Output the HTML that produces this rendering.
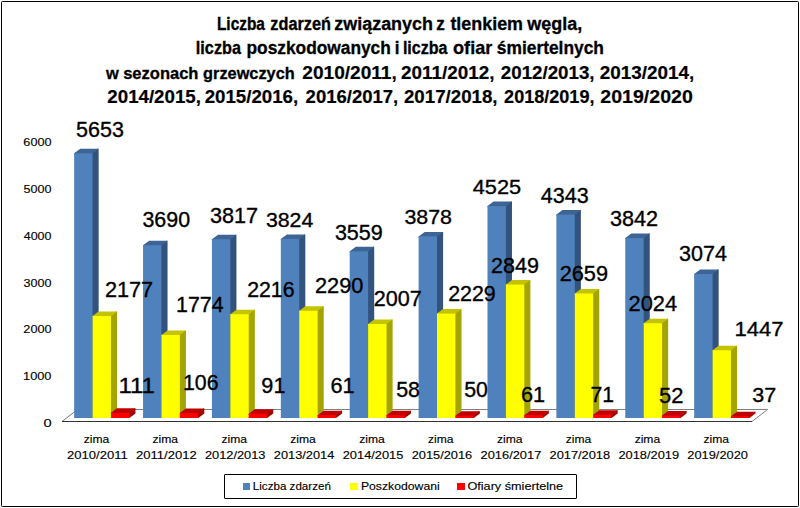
<!DOCTYPE html>
<html><head><meta charset="utf-8"><style>
html,body{margin:0;padding:0;background:#fff;width:800px;height:508px;overflow:hidden}
svg text{font-family:"Liberation Sans",sans-serif}
</style></head><body>
<svg width="800" height="508" viewBox="0 0 800 508" style="position:absolute;left:0;top:0">
<rect x="0" y="0" width="800" height="508" fill="#fff"/>
<rect x="1.5" y="1.5" width="797" height="505" fill="none" stroke="#000" stroke-width="1" rx="1"/>
<text transform="translate(216.96,30.00) scale(0.1541,0.1891)" font-size="100" font-weight="bold" fill="#000" stroke="#000" stroke-width="1.95">Liczba</text>
<text transform="translate(270.35,30.00) scale(0.1629,0.1891)" font-size="100" font-weight="bold" fill="#000" stroke="#000" stroke-width="1.84">zdarzeń</text>
<text transform="translate(334.28,30.00) scale(0.1795,0.1891)" font-size="100" font-weight="bold" fill="#000" stroke="#000" stroke-width="1.67">związanych</text>
<text transform="translate(436.32,30.00) scale(0.1711,0.1891)" font-size="100" font-weight="bold" fill="#000" stroke="#000" stroke-width="1.75">z</text>
<text transform="translate(450.38,30.00) scale(0.1793,0.1891)" font-size="100" font-weight="bold" fill="#000" stroke="#000" stroke-width="1.67">tlenkiem</text>
<text transform="translate(527.24,30.00) scale(0.1798,0.1891)" font-size="100" font-weight="bold" fill="#000" stroke="#000" stroke-width="1.67">węgla,</text>
<text transform="translate(195.87,54.00) scale(0.1621,0.1834)" font-size="100" font-weight="bold" fill="#000" stroke="#000" stroke-width="1.85">liczba</text>
<text transform="translate(246.47,54.00) scale(0.1734,0.1834)" font-size="100" font-weight="bold" fill="#000" stroke="#000" stroke-width="1.73">poszkodowanych</text>
<text transform="translate(394.81,54.00) scale(0.1702,0.1834)" font-size="100" font-weight="bold" fill="#000" stroke="#000" stroke-width="1.76">i</text>
<text transform="translate(402.88,54.00) scale(0.1606,0.1834)" font-size="100" font-weight="bold" fill="#000" stroke="#000" stroke-width="1.87">liczba</text>
<text transform="translate(453.08,54.00) scale(0.1808,0.1834)" font-size="100" font-weight="bold" fill="#000" stroke="#000" stroke-width="1.66">ofiar</text>
<text transform="translate(496.79,54.00) scale(0.1738,0.1834)" font-size="100" font-weight="bold" fill="#000" stroke="#000" stroke-width="1.73">śmiertelnych</text>
<text transform="translate(106.04,78.60) scale(0.1643,0.1725)" font-size="100" font-weight="bold" fill="#000" stroke="#000" stroke-width="1.83">w</text>
<text transform="translate(123.17,78.60) scale(0.1653,0.1725)" font-size="100" font-weight="bold" fill="#000" stroke="#000" stroke-width="1.82">sezonach</text>
<text transform="translate(203.10,78.60) scale(0.1633,0.1725)" font-size="100" font-weight="bold" fill="#000" stroke="#000" stroke-width="1.84">grzewczych</text>
<text transform="translate(302.33,78.82) scale(0.1908,0.1781)" font-size="100" font-weight="bold" fill="#000" stroke="#000" stroke-width="1.05">2010/2011,</text>
<text transform="translate(401.09,78.82) scale(0.1889,0.1781)" font-size="100" font-weight="bold" fill="#000" stroke="#000" stroke-width="1.06">2011/2012,</text>
<text transform="translate(500.84,78.82) scale(0.1873,0.1781)" font-size="100" font-weight="bold" fill="#000" stroke="#000" stroke-width="1.07">2012/2013,</text>
<text transform="translate(599.84,78.82) scale(0.1887,0.1781)" font-size="100" font-weight="bold" fill="#000" stroke="#000" stroke-width="1.06">2013/2014,</text>
<text transform="translate(107.35,102.82) scale(0.1870,0.1781)" font-size="100" font-weight="bold" fill="#000" stroke="#000" stroke-width="1.07">2014/2015,</text>
<text transform="translate(204.65,102.82) scale(0.1870,0.1781)" font-size="100" font-weight="bold" fill="#000" stroke="#000" stroke-width="1.07">2015/2016,</text>
<text transform="translate(305.60,102.82) scale(0.1851,0.1781)" font-size="100" font-weight="bold" fill="#000" stroke="#000" stroke-width="1.08">2016/2017,</text>
<text transform="translate(403.95,102.82) scale(0.1871,0.1781)" font-size="100" font-weight="bold" fill="#000" stroke="#000" stroke-width="1.07">2017/2018,</text>
<text transform="translate(504.12,102.82) scale(0.1806,0.1781)" font-size="100" font-weight="bold" fill="#000" stroke="#000" stroke-width="1.11">2018/2019,</text>
<text transform="translate(600.32,102.82) scale(0.1957,0.1781)" font-size="100" font-weight="bold" fill="#000" stroke="#000" stroke-width="1.02">2019/2020</text>
<text transform="translate(23.37,145.89) scale(0.1265,0.1131)" font-size="100" font-weight="normal" fill="#000" stroke="#000" stroke-width="1.19">6000</text>
<text transform="translate(23.50,192.89) scale(0.1259,0.1131)" font-size="100" font-weight="normal" fill="#000" stroke="#000" stroke-width="1.19">5000</text>
<text transform="translate(23.72,239.89) scale(0.1249,0.1131)" font-size="100" font-weight="normal" fill="#000" stroke="#000" stroke-width="1.20">4000</text>
<text transform="translate(23.53,286.89) scale(0.1257,0.1131)" font-size="100" font-weight="normal" fill="#000" stroke="#000" stroke-width="1.19">3000</text>
<text transform="translate(23.37,333.19) scale(0.1265,0.1131)" font-size="100" font-weight="normal" fill="#000" stroke="#000" stroke-width="1.19">2000</text>
<text transform="translate(23.04,380.09) scale(0.1280,0.1131)" font-size="100" font-weight="normal" fill="#000" stroke="#000" stroke-width="1.17">1000</text>
<text transform="translate(43.41,426.89) scale(0.1466,0.1131)" font-size="100" font-weight="normal" fill="#000" stroke="#000" stroke-width="1.02">0</text>
<polygon points="62,421.5 752,421.5 767.5,409.5 77.5,409.5" fill="#fff" stroke="none"/>
<line x1="77.5" y1="409.5" x2="767.5" y2="409.5" stroke="#808080" stroke-width="1"/>
<line x1="767.5" y1="409.5" x2="752" y2="421.5" stroke="#808080" stroke-width="1"/>
<line x1="62" y1="421.5" x2="77.5" y2="409.5" stroke="#7a7a7a" stroke-width="1"/>
<line x1="62" y1="421.5" x2="752" y2="421.5" stroke="#333" stroke-width="1.2"/>
<polygon points="91.55,153.27 97.65,148.77 98.65,148.77 98.65,413.50 92.55,418.00 91.55,418.00" fill="#32537D"/>
<polygon points="74.15,154.27 74.15,153.27 80.25,148.77 98.65,148.77 92.55,153.27 92.55,154.27" fill="#3E6496"/>
<rect x="74.15" y="153.27" width="18.40" height="264.73" fill="#4F81BD"/>
<polygon points="109.95,316.05 116.05,311.55 117.05,311.55 117.05,413.50 110.95,418.00 109.95,418.00" fill="#A4A400"/>
<polygon points="92.55,317.05 92.55,316.05 98.65,311.55 117.05,311.55 110.95,316.05 110.95,317.05" fill="#C3C300"/>
<rect x="92.55" y="316.05" width="18.40" height="101.95" fill="#FFFF00"/>
<polygon points="128.35,412.80 134.45,408.30 135.45,408.30 135.45,413.50 129.35,418.00 128.35,418.00" fill="#A00000"/>
<polygon points="110.95,413.80 110.95,412.80 117.05,408.30 135.45,408.30 129.35,412.80 129.35,413.80" fill="#C00000"/>
<rect x="110.95" y="412.80" width="18.40" height="5.20" fill="#FF0000"/>
<polygon points="160.44,245.20 166.54,240.70 167.54,240.70 167.54,413.50 161.44,418.00 160.44,418.00" fill="#32537D"/>
<polygon points="143.04,246.20 143.04,245.20 149.14,240.70 167.54,240.70 161.44,245.20 161.44,246.20" fill="#3E6496"/>
<rect x="143.04" y="245.20" width="18.40" height="172.80" fill="#4F81BD"/>
<polygon points="178.84,334.92 184.94,330.42 185.94,330.42 185.94,413.50 179.84,418.00 178.84,418.00" fill="#A4A400"/>
<polygon points="161.44,335.92 161.44,334.92 167.54,330.42 185.94,330.42 179.84,334.92 179.84,335.92" fill="#C3C300"/>
<rect x="161.44" y="334.92" width="18.40" height="83.08" fill="#FFFF00"/>
<polygon points="197.24,413.04 203.34,408.54 204.34,408.54 204.34,413.50 198.24,418.00 197.24,418.00" fill="#A00000"/>
<polygon points="179.84,414.04 179.84,413.04 185.94,408.54 204.34,408.54 198.24,413.04 198.24,414.04" fill="#C00000"/>
<rect x="179.84" y="413.04" width="18.40" height="4.96" fill="#FF0000"/>
<polygon points="229.33,239.25 235.43,234.75 236.43,234.75 236.43,413.50 230.33,418.00 229.33,418.00" fill="#32537D"/>
<polygon points="211.93,240.25 211.93,239.25 218.03,234.75 236.43,234.75 230.33,239.25 230.33,240.25" fill="#3E6496"/>
<rect x="211.93" y="239.25" width="18.40" height="178.75" fill="#4F81BD"/>
<polygon points="247.73,314.22 253.83,309.72 254.83,309.72 254.83,413.50 248.73,418.00 247.73,418.00" fill="#A4A400"/>
<polygon points="230.33,315.22 230.33,314.22 236.43,309.72 254.83,309.72 248.73,314.22 248.73,315.22" fill="#C3C300"/>
<rect x="230.33" y="314.22" width="18.40" height="103.78" fill="#FFFF00"/>
<polygon points="266.13,413.74 272.23,409.24 273.23,409.24 273.23,413.50 267.13,418.00 266.13,418.00" fill="#A00000"/>
<polygon points="248.73,414.74 248.73,413.74 254.83,409.24 273.23,409.24 267.13,413.74 267.13,414.74" fill="#C00000"/>
<rect x="248.73" y="413.74" width="18.40" height="4.26" fill="#FF0000"/>
<polygon points="298.22,238.92 304.32,234.42 305.32,234.42 305.32,413.50 299.22,418.00 298.22,418.00" fill="#32537D"/>
<polygon points="280.82,239.92 280.82,238.92 286.92,234.42 305.32,234.42 299.22,238.92 299.22,239.92" fill="#3E6496"/>
<rect x="280.82" y="238.92" width="18.40" height="179.08" fill="#4F81BD"/>
<polygon points="316.62,310.76 322.72,306.26 323.72,306.26 323.72,413.50 317.62,418.00 316.62,418.00" fill="#A4A400"/>
<polygon points="299.22,311.76 299.22,310.76 305.32,306.26 323.72,306.26 317.62,310.76 317.62,311.76" fill="#C3C300"/>
<rect x="299.22" y="310.76" width="18.40" height="107.24" fill="#FFFF00"/>
<polygon points="335.02,415.14 341.12,410.64 342.12,410.64 342.12,413.50 336.02,418.00 335.02,418.00" fill="#A00000"/>
<polygon points="317.62,416.14 317.62,415.14 323.72,410.64 342.12,410.64 336.02,415.14 336.02,416.14" fill="#C00000"/>
<rect x="317.62" y="415.14" width="18.40" height="2.86" fill="#FF0000"/>
<polygon points="367.11,251.33 373.21,246.83 374.21,246.83 374.21,413.50 368.11,418.00 367.11,418.00" fill="#32537D"/>
<polygon points="349.71,252.33 349.71,251.33 355.81,246.83 374.21,246.83 368.11,251.33 368.11,252.33" fill="#3E6496"/>
<rect x="349.71" y="251.33" width="18.40" height="166.67" fill="#4F81BD"/>
<polygon points="385.51,324.01 391.61,319.51 392.61,319.51 392.61,413.50 386.51,418.00 385.51,418.00" fill="#A4A400"/>
<polygon points="368.11,325.01 368.11,324.01 374.21,319.51 392.61,319.51 386.51,324.01 386.51,325.01" fill="#C3C300"/>
<rect x="368.11" y="324.01" width="18.40" height="93.99" fill="#FFFF00"/>
<polygon points="403.91,415.28 410.01,410.78 411.01,410.78 411.01,413.50 404.91,418.00 403.91,418.00" fill="#A00000"/>
<polygon points="386.51,416.28 386.51,415.28 392.61,410.78 411.01,410.78 404.91,415.28 404.91,416.28" fill="#C00000"/>
<rect x="386.51" y="415.28" width="18.40" height="2.72" fill="#FF0000"/>
<polygon points="436.00,236.39 442.10,231.89 443.10,231.89 443.10,413.50 437.00,418.00 436.00,418.00" fill="#32537D"/>
<polygon points="418.60,237.39 418.60,236.39 424.70,231.89 443.10,231.89 437.00,236.39 437.00,237.39" fill="#3E6496"/>
<rect x="418.60" y="236.39" width="18.40" height="181.61" fill="#4F81BD"/>
<polygon points="454.40,313.62 460.50,309.12 461.50,309.12 461.50,413.50 455.40,418.00 454.40,418.00" fill="#A4A400"/>
<polygon points="437.00,314.62 437.00,313.62 443.10,309.12 461.50,309.12 455.40,313.62 455.40,314.62" fill="#C3C300"/>
<rect x="437.00" y="313.62" width="18.40" height="104.38" fill="#FFFF00"/>
<polygon points="472.80,415.66 478.90,411.16 479.90,411.16 479.90,413.50 473.80,418.00 472.80,418.00" fill="#A00000"/>
<polygon points="455.40,416.66 455.40,415.66 461.50,411.16 479.90,411.16 473.80,415.66 473.80,416.66" fill="#C00000"/>
<rect x="455.40" y="415.66" width="18.40" height="2.34" fill="#FF0000"/>
<polygon points="504.89,206.09 510.99,201.59 511.99,201.59 511.99,413.50 505.89,418.00 504.89,418.00" fill="#32537D"/>
<polygon points="487.49,207.09 487.49,206.09 493.59,201.59 511.99,201.59 505.89,206.09 505.89,207.09" fill="#3E6496"/>
<rect x="487.49" y="206.09" width="18.40" height="211.91" fill="#4F81BD"/>
<polygon points="523.29,284.58 529.39,280.08 530.39,280.08 530.39,413.50 524.29,418.00 523.29,418.00" fill="#A4A400"/>
<polygon points="505.89,285.58 505.89,284.58 511.99,280.08 530.39,280.08 524.29,284.58 524.29,285.58" fill="#C3C300"/>
<rect x="505.89" y="284.58" width="18.40" height="133.42" fill="#FFFF00"/>
<polygon points="541.69,415.14 547.79,410.64 548.79,410.64 548.79,413.50 542.69,418.00 541.69,418.00" fill="#A00000"/>
<polygon points="524.29,416.14 524.29,415.14 530.39,410.64 548.79,410.64 542.69,415.14 542.69,416.14" fill="#C00000"/>
<rect x="524.29" y="415.14" width="18.40" height="2.86" fill="#FF0000"/>
<polygon points="573.78,214.62 579.88,210.12 580.88,210.12 580.88,413.50 574.78,418.00 573.78,418.00" fill="#32537D"/>
<polygon points="556.38,215.62 556.38,214.62 562.48,210.12 580.88,210.12 574.78,214.62 574.78,215.62" fill="#3E6496"/>
<rect x="556.38" y="214.62" width="18.40" height="203.38" fill="#4F81BD"/>
<polygon points="592.18,293.48 598.28,288.98 599.28,288.98 599.28,413.50 593.18,418.00 592.18,418.00" fill="#A4A400"/>
<polygon points="574.78,294.48 574.78,293.48 580.88,288.98 599.28,288.98 593.18,293.48 593.18,294.48" fill="#C3C300"/>
<rect x="574.78" y="293.48" width="18.40" height="124.52" fill="#FFFF00"/>
<polygon points="610.58,414.68 616.68,410.18 617.68,410.18 617.68,413.50 611.58,418.00 610.58,418.00" fill="#A00000"/>
<polygon points="593.18,415.68 593.18,414.68 599.28,410.18 617.68,410.18 611.58,414.68 611.58,415.68" fill="#C00000"/>
<rect x="593.18" y="414.68" width="18.40" height="3.32" fill="#FF0000"/>
<polygon points="642.67,238.08 648.77,233.58 649.77,233.58 649.77,413.50 643.67,418.00 642.67,418.00" fill="#32537D"/>
<polygon points="625.27,239.08 625.27,238.08 631.37,233.58 649.77,233.58 643.67,238.08 643.67,239.08" fill="#3E6496"/>
<rect x="625.27" y="238.08" width="18.40" height="179.92" fill="#4F81BD"/>
<polygon points="661.07,323.22 667.17,318.72 668.17,318.72 668.17,413.50 662.07,418.00 661.07,418.00" fill="#A4A400"/>
<polygon points="643.67,324.22 643.67,323.22 649.77,318.72 668.17,318.72 662.07,323.22 662.07,324.22" fill="#C3C300"/>
<rect x="643.67" y="323.22" width="18.40" height="94.78" fill="#FFFF00"/>
<polygon points="679.47,415.56 685.57,411.06 686.57,411.06 686.57,413.50 680.47,418.00 679.47,418.00" fill="#A00000"/>
<polygon points="662.07,416.56 662.07,415.56 668.17,411.06 686.57,411.06 680.47,415.56 680.47,416.56" fill="#C00000"/>
<rect x="662.07" y="415.56" width="18.40" height="2.44" fill="#FF0000"/>
<polygon points="711.56,274.04 717.66,269.54 718.66,269.54 718.66,413.50 712.56,418.00 711.56,418.00" fill="#32537D"/>
<polygon points="694.16,275.04 694.16,274.04 700.26,269.54 718.66,269.54 712.56,274.04 712.56,275.04" fill="#3E6496"/>
<rect x="694.16" y="274.04" width="18.40" height="143.96" fill="#4F81BD"/>
<polygon points="729.96,350.24 736.06,345.74 737.06,345.74 737.06,413.50 730.96,418.00 729.96,418.00" fill="#A4A400"/>
<polygon points="712.56,351.24 712.56,350.24 718.66,345.74 737.06,345.74 730.96,350.24 730.96,351.24" fill="#C3C300"/>
<rect x="712.56" y="350.24" width="18.40" height="67.76" fill="#FFFF00"/>
<polygon points="748.36,416.27 754.46,411.77 755.46,411.77 755.46,413.50 749.36,418.00 748.36,418.00" fill="#A00000"/>
<polygon points="730.96,417.27 730.96,416.27 737.06,411.77 755.46,411.77 749.36,416.27 749.36,417.27" fill="#C00000"/>
<rect x="730.96" y="416.27" width="18.40" height="1.73" fill="#FF0000"/>
<text transform="translate(76.04,136.53) scale(0.2150,0.2184)" font-size="100" font-weight="normal" fill="#000" stroke="#000" stroke-width="1.63">5653</text>
<text transform="translate(142.40,227.49) scale(0.2142,0.2134)" font-size="100" font-weight="normal" fill="#000" stroke="#000" stroke-width="1.63">3690</text>
<text transform="translate(209.99,222.59) scale(0.2164,0.2148)" font-size="100" font-weight="normal" fill="#000" stroke="#000" stroke-width="1.62">3817</text>
<text transform="translate(265.90,226.79) scale(0.2132,0.2106)" font-size="100" font-weight="normal" fill="#000" stroke="#000" stroke-width="1.64">3824</text>
<text transform="translate(334.89,239.68) scale(0.2154,0.2163)" font-size="100" font-weight="normal" fill="#000" stroke="#000" stroke-width="1.62">3559</text>
<text transform="translate(404.40,223.99) scale(0.2138,0.2092)" font-size="100" font-weight="normal" fill="#000" stroke="#000" stroke-width="1.64">3878</text>
<text transform="translate(472.71,194.49) scale(0.2181,0.2092)" font-size="100" font-weight="normal" fill="#000" stroke="#000" stroke-width="1.61">4525</text>
<text transform="translate(540.72,202.59) scale(0.2155,0.2148)" font-size="100" font-weight="normal" fill="#000" stroke="#000" stroke-width="1.62">4343</text>
<text transform="translate(609.99,226.49) scale(0.2164,0.2120)" font-size="100" font-weight="normal" fill="#000" stroke="#000" stroke-width="1.62">3842</text>
<text transform="translate(678.99,261.49) scale(0.2155,0.2120)" font-size="100" font-weight="normal" fill="#000" stroke="#000" stroke-width="1.62">3074</text>
<text transform="translate(104.91,296.53) scale(0.2172,0.2184)" font-size="100" font-weight="normal" fill="#000" stroke="#000" stroke-width="1.61">2177</text>
<text transform="translate(176.10,312.48) scale(0.2137,0.2163)" font-size="100" font-weight="normal" fill="#000" stroke="#000" stroke-width="1.64">1774</text>
<text transform="translate(247.13,296.59) scale(0.2136,0.2148)" font-size="100" font-weight="normal" fill="#000" stroke="#000" stroke-width="1.64">2216</text>
<text transform="translate(314.91,292.59) scale(0.2178,0.2148)" font-size="100" font-weight="normal" fill="#000" stroke="#000" stroke-width="1.61">2290</text>
<text transform="translate(373.72,306.49) scale(0.2158,0.2134)" font-size="100" font-weight="normal" fill="#000" stroke="#000" stroke-width="1.62">2007</text>
<text transform="translate(448.13,301.49) scale(0.2143,0.2134)" font-size="100" font-weight="normal" fill="#000" stroke="#000" stroke-width="1.63">2229</text>
<text transform="translate(491.12,272.59) scale(0.2153,0.2148)" font-size="100" font-weight="normal" fill="#000" stroke="#000" stroke-width="1.63">2849</text>
<text transform="translate(559.71,281.49) scale(0.2172,0.2120)" font-size="100" font-weight="normal" fill="#000" stroke="#000" stroke-width="1.61">2659</text>
<text transform="translate(628.51,310.79) scale(0.2182,0.2148)" font-size="100" font-weight="normal" fill="#000" stroke="#000" stroke-width="1.60">2024</text>
<text transform="translate(734.55,335.79) scale(0.2203,0.2106)" font-size="100" font-weight="normal" fill="#000" stroke="#000" stroke-width="1.59">1447</text>
<text transform="translate(118.40,392.97) scale(0.2404,0.2261)" font-size="100" font-weight="normal" fill="#000" stroke="#000" stroke-width="1.46">111</text>
<text transform="translate(182.90,389.98) scale(0.2135,0.2205)" font-size="100" font-weight="normal" fill="#000" stroke="#000" stroke-width="1.64">106</text>
<text transform="translate(261.37,392.79) scale(0.2167,0.2148)" font-size="100" font-weight="normal" fill="#000" stroke="#000" stroke-width="1.61">91</text>
<text transform="translate(330.51,392.79) scale(0.2173,0.2148)" font-size="100" font-weight="normal" fill="#000" stroke="#000" stroke-width="1.61">61</text>
<text transform="translate(396.14,396.79) scale(0.2141,0.2148)" font-size="100" font-weight="normal" fill="#000" stroke="#000" stroke-width="1.63">58</text>
<text transform="translate(464.15,397.39) scale(0.2131,0.2148)" font-size="100" font-weight="normal" fill="#000" stroke="#000" stroke-width="1.64">50</text>
<text transform="translate(520.91,402.39) scale(0.2173,0.2148)" font-size="100" font-weight="normal" fill="#000" stroke="#000" stroke-width="1.61">61</text>
<text transform="translate(590.54,402.39) scale(0.2114,0.2148)" font-size="100" font-weight="normal" fill="#000" stroke="#000" stroke-width="1.66">71</text>
<text transform="translate(659.12,403.39) scale(0.2196,0.2148)" font-size="100" font-weight="normal" fill="#000" stroke="#000" stroke-width="1.59">52</text>
<text transform="translate(752.19,402.19) scale(0.2152,0.2064)" font-size="100" font-weight="normal" fill="#000" stroke="#000" stroke-width="1.63">37</text>
<text transform="translate(83.67,443.00) scale(0.1211,0.1137)" font-size="100" font-weight="normal" fill="#000" stroke="#000" stroke-width="1.24">zima</text>
<text transform="translate(67.05,458.89) scale(0.1306,0.1131)" font-size="100" font-weight="normal" fill="#000" stroke="#000" stroke-width="1.15">2010/2011</text>
<text transform="translate(152.54,443.00) scale(0.1211,0.1137)" font-size="100" font-weight="normal" fill="#000" stroke="#000" stroke-width="1.24">zima</text>
<text transform="translate(135.97,458.89) scale(0.1307,0.1131)" font-size="100" font-weight="normal" fill="#000" stroke="#000" stroke-width="1.15">2011/2012</text>
<text transform="translate(221.41,443.00) scale(0.1211,0.1137)" font-size="100" font-weight="normal" fill="#000" stroke="#000" stroke-width="1.24">zima</text>
<text transform="translate(204.90,458.89) scale(0.1284,0.1131)" font-size="100" font-weight="normal" fill="#000" stroke="#000" stroke-width="1.17">2012/2013</text>
<text transform="translate(290.28,443.00) scale(0.1211,0.1137)" font-size="100" font-weight="normal" fill="#000" stroke="#000" stroke-width="1.24">zima</text>
<text transform="translate(273.82,458.89) scale(0.1280,0.1131)" font-size="100" font-weight="normal" fill="#000" stroke="#000" stroke-width="1.17">2013/2014</text>
<text transform="translate(359.15,443.00) scale(0.1211,0.1137)" font-size="100" font-weight="normal" fill="#000" stroke="#000" stroke-width="1.24">zima</text>
<text transform="translate(342.74,458.89) scale(0.1284,0.1131)" font-size="100" font-weight="normal" fill="#000" stroke="#000" stroke-width="1.17">2014/2015</text>
<text transform="translate(428.02,443.00) scale(0.1211,0.1137)" font-size="100" font-weight="normal" fill="#000" stroke="#000" stroke-width="1.24">zima</text>
<text transform="translate(411.66,458.89) scale(0.1284,0.1131)" font-size="100" font-weight="normal" fill="#000" stroke="#000" stroke-width="1.17">2015/2016</text>
<text transform="translate(496.89,443.00) scale(0.1211,0.1137)" font-size="100" font-weight="normal" fill="#000" stroke="#000" stroke-width="1.24">zima</text>
<text transform="translate(480.58,458.89) scale(0.1286,0.1131)" font-size="100" font-weight="normal" fill="#000" stroke="#000" stroke-width="1.17">2016/2017</text>
<text transform="translate(565.76,443.00) scale(0.1211,0.1137)" font-size="100" font-weight="normal" fill="#000" stroke="#000" stroke-width="1.24">zima</text>
<text transform="translate(549.50,458.89) scale(0.1284,0.1131)" font-size="100" font-weight="normal" fill="#000" stroke="#000" stroke-width="1.17">2017/2018</text>
<text transform="translate(634.63,443.00) scale(0.1211,0.1137)" font-size="100" font-weight="normal" fill="#000" stroke="#000" stroke-width="1.24">zima</text>
<text transform="translate(618.42,458.89) scale(0.1285,0.1131)" font-size="100" font-weight="normal" fill="#000" stroke="#000" stroke-width="1.17">2018/2019</text>
<text transform="translate(703.50,443.00) scale(0.1211,0.1137)" font-size="100" font-weight="normal" fill="#000" stroke="#000" stroke-width="1.24">zima</text>
<text transform="translate(687.34,458.89) scale(0.1283,0.1131)" font-size="100" font-weight="normal" fill="#000" stroke="#000" stroke-width="1.17">2019/2020</text>
<rect x="224.5" y="474.5" width="352" height="24" fill="none" stroke="#000" stroke-width="1" rx="0.5"/>
<rect x="243" y="483" width="7" height="7" fill="#4F81BD"/>
<rect x="350" y="483" width="8" height="7" fill="#FFFF00"/>
<rect x="457" y="483" width="8" height="7" fill="#FF0000"/>
<text transform="translate(252.79,490.00) scale(0.1162,0.1164)" font-size="100" font-weight="normal" fill="#000" stroke="#000" stroke-width="1.29">Liczba zdarzeń</text>
<text transform="translate(360.89,490.00) scale(0.1224,0.1164)" font-size="100" font-weight="normal" fill="#000" stroke="#000" stroke-width="1.23">Poszkodowani</text>
<text transform="translate(467.40,490.00) scale(0.1268,0.1164)" font-size="100" font-weight="normal" fill="#000" stroke="#000" stroke-width="1.18">Ofiary śmiertelne</text>
</svg>
</body></html>
